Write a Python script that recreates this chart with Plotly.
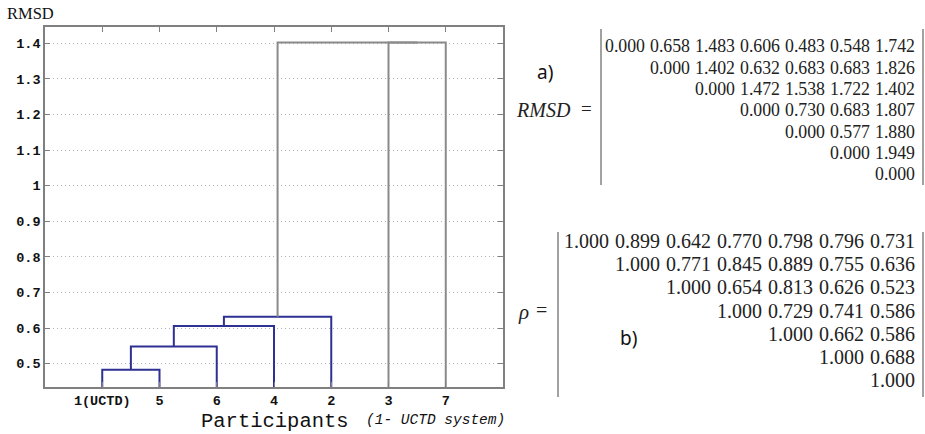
import plotly.graph_objects as go

# ---------------- data ----------------
participant_ids = [1, 2, 3, 4, 5, 6, 7]
participant_labels = {1: "1(UCTD)", 2: "2", 3: "3", 4: "4", 5: "5", 6: "6", 7: "7"}
leaf_order = [1, 5, 6, 4, 2, 3, 7]

rmsd_rows = [
    [0.000, 0.658, 1.483, 0.606, 0.483, 0.548, 1.742],
    [0.000, 1.402, 0.632, 0.683, 0.683, 1.826],
    [0.000, 1.472, 1.538, 1.722, 1.402],
    [0.000, 0.730, 0.683, 1.807],
    [0.000, 0.577, 1.880],
    [0.000, 1.949],
    [0.000],
]
rho_rows = [
    [1.000, 0.899, 0.642, 0.770, 0.798, 0.796, 0.731],
    [1.000, 0.771, 0.845, 0.889, 0.755, 0.636],
    [1.000, 0.654, 0.813, 0.626, 0.523],
    [1.000, 0.729, 0.741, 0.586],
    [1.000, 0.662, 0.586],
    [1.000, 0.688],
    [1.000],
]
y_ticks = [0.5, 0.6, 0.7, 0.8, 0.9, 1.0, 1.1, 1.2, 1.3, 1.4]
y_ticktext = ["0.5", "0.6", "0.7", "0.8", "0.9", "1", "1.1", "1.2", "1.3", "1.4"]

# ---------------- single linkage from the RMSD matrix ----------------
n = len(participant_ids)
D = [[0.0] * n for _ in range(n)]
for i, row in enumerate(rmsd_rows):
    for k, v in enumerate(row):
        j = i + k
        D[i][j] = v
        D[j][i] = v

clusters = {pid: {"members": [pid], "x": leaf_order.index(pid) + 1, "h": 0.0}
            for pid in participant_ids}
links = []
next_id = 100
while len(clusters) > 1:
    best = None
    keys = list(clusters.keys())
    for a_i in range(len(keys)):
        for b_i in range(a_i + 1, len(keys)):
            a, b = keys[a_i], keys[b_i]
            d = min(D[p - 1][q - 1] for p in clusters[a]["members"] for q in clusters[b]["members"])
            if best is None or d < best[0] - 1e-12:
                best = (d, a, b)
    d, a, b = best
    ca, cb = clusters.pop(a), clusters.pop(b)
    if ca["x"] > cb["x"]:
        ca, cb = cb, ca
    links.append((ca["x"], ca["h"], cb["x"], cb["h"], d))
    clusters[next_id] = {"members": ca["members"] + cb["members"],
                         "x": (ca["x"] + cb["x"]) / 2.0, "h": d}
    next_id += 1

max_h = max(l[4] for l in links)
BLUE = "#2e3192"
GRAY = "#8a8a8a"

fig = go.Figure()
for xa, ha, xb, hb, h in links:
    col = BLUE if h < 0.7 * max_h else GRAY
    fig.add_trace(go.Scatter(x=[xa, xa, xb, xb], y=[ha, h, h, hb], mode="lines",
                             line=dict(color=col, width=2), hoverinfo="skip",
                             showlegend=False))

W, H = 925, 434
L, R, T, B = 45, 422, 27, 47
PW, PH = W - L - R, H - T - B


def px(x):
    return (x - L) / PW


def py(y):
    return (H - B - y) / PH


tick_font = dict(family="Liberation Mono", size=13.5, color="#111111", weight="bold")
fig.update_xaxes(range=[0, 8], tickvals=list(range(1, n + 1)),
                 ticktext=[participant_labels[p] for p in leaf_order],
                 ticks="inside", ticklen=5, tickcolor="#808080", showline=True,
                 linecolor="#808080", linewidth=1.5, mirror="ticks", showgrid=False,
                 zeroline=False, tickfont=tick_font)
fig.update_yaxes(range=[0.4345, 1.4458], tickvals=y_ticks, ticktext=y_ticktext,
                 ticks="inside", ticklen=5, tickcolor="#808080", showline=True,
                 linecolor="#808080", linewidth=1.5, mirror="ticks", showgrid=True,
                 gridcolor="#b0b0b0", griddash="1px,3px", gridwidth=1, zeroline=False,
                 tickfont=tick_font)

ann = []
# axis titles
ann.append(dict(text="RMSD", x=px(5), y=py(14), xanchor="left", yanchor="middle",
                font=dict(family="Liberation Serif", size=16.5, color="#111111")))
ann.append(dict(text="Participants", x=px(199), y=py(421), xanchor="left", yanchor="middle",
                font=dict(family="Liberation Mono", size=20.5, color="#111111")))
ann.append(dict(text="<i>(1- UCTD system)</i>", x=px(364), y=py(420), xanchor="left",
                yanchor="middle",
                font=dict(family="Liberation Mono", size=14.5, color="#111111")))

# RMSD matrix
rm_right, rm_pitch = 917, 45.0
rm_rows_y = [46, 67.5, 89, 110, 131.5, 153, 174]
for i, row in enumerate(rmsd_rows):
    for k, v in enumerate(row):
        col = i + k
        ann.append(dict(text=f"{v:.3f}", x=px(rm_right - (n - 1 - col) * rm_pitch),
                        y=py(rm_rows_y[i]), xanchor="right", yanchor="middle",
                        font=dict(family="Liberation Serif", size=17.8, color="#222222")))
ann.append(dict(text="<i>RMSD</i>", x=px(573), y=py(110), xanchor="right", yanchor="middle",
                font=dict(family="Liberation Serif", size=20, color="#222222")))
ann.append(dict(text="=", x=px(586), y=py(109), xanchor="center", yanchor="middle",
                font=dict(family="Liberation Serif", size=19, color="#222222")))
ann.append(dict(text="a)", x=px(545), y=py(72), xanchor="center", yanchor="middle",
                font=dict(family="Noto Sans", size=19, color="#111111")))

# rho matrix
rh_right, rh_pitch = 917, 51.0
rh_rows_y = [241, 264, 287, 310.5, 333.5, 356.5, 379.5]
for i, row in enumerate(rho_rows):
    for k, v in enumerate(row):
        col = i + k
        ann.append(dict(text=f"{v:.3f}", x=px(rh_right - (n - 1 - col) * rh_pitch),
                        y=py(rh_rows_y[i]), xanchor="right", yanchor="middle",
                        font=dict(family="Liberation Serif", size=20, color="#222222")))
ann.append(dict(text="<i>ρ</i>", x=px(523), y=py(312), xanchor="center", yanchor="middle",
                font=dict(family="Liberation Serif", size=21, color="#222222")))
ann.append(dict(text="=", x=px(541), y=py(310), xanchor="center", yanchor="middle",
                font=dict(family="Liberation Serif", size=20, color="#222222")))
ann.append(dict(text="b)", x=px(628), y=py(338), xanchor="center", yanchor="middle",
                font=dict(family="Noto Sans", size=19, color="#111111")))

for a in ann:
    a.update(xref="paper", yref="paper", showarrow=False)

shapes = []
for x0, y0, y1 in [(601, 29, 185), (923, 29, 185), (558, 232, 397), (923, 232, 397)]:
    shapes.append(dict(type="line", xref="paper", yref="paper", x0=px(x0), x1=px(x0),
                       y0=py(y0), y1=py(y1), line=dict(color="#444444", width=1)))

fig.update_layout(width=W, height=H, margin=dict(l=L, r=R, t=T, b=B),
                  paper_bgcolor="white", plot_bgcolor="white",
                  annotations=ann, shapes=shapes)

fig.write_html("out.html", config={"displayModeBar": False},
               post_script="document.body.style.margin='0';document.body.style.padding='0';"
                           "document.body.style.overflow='hidden';")
